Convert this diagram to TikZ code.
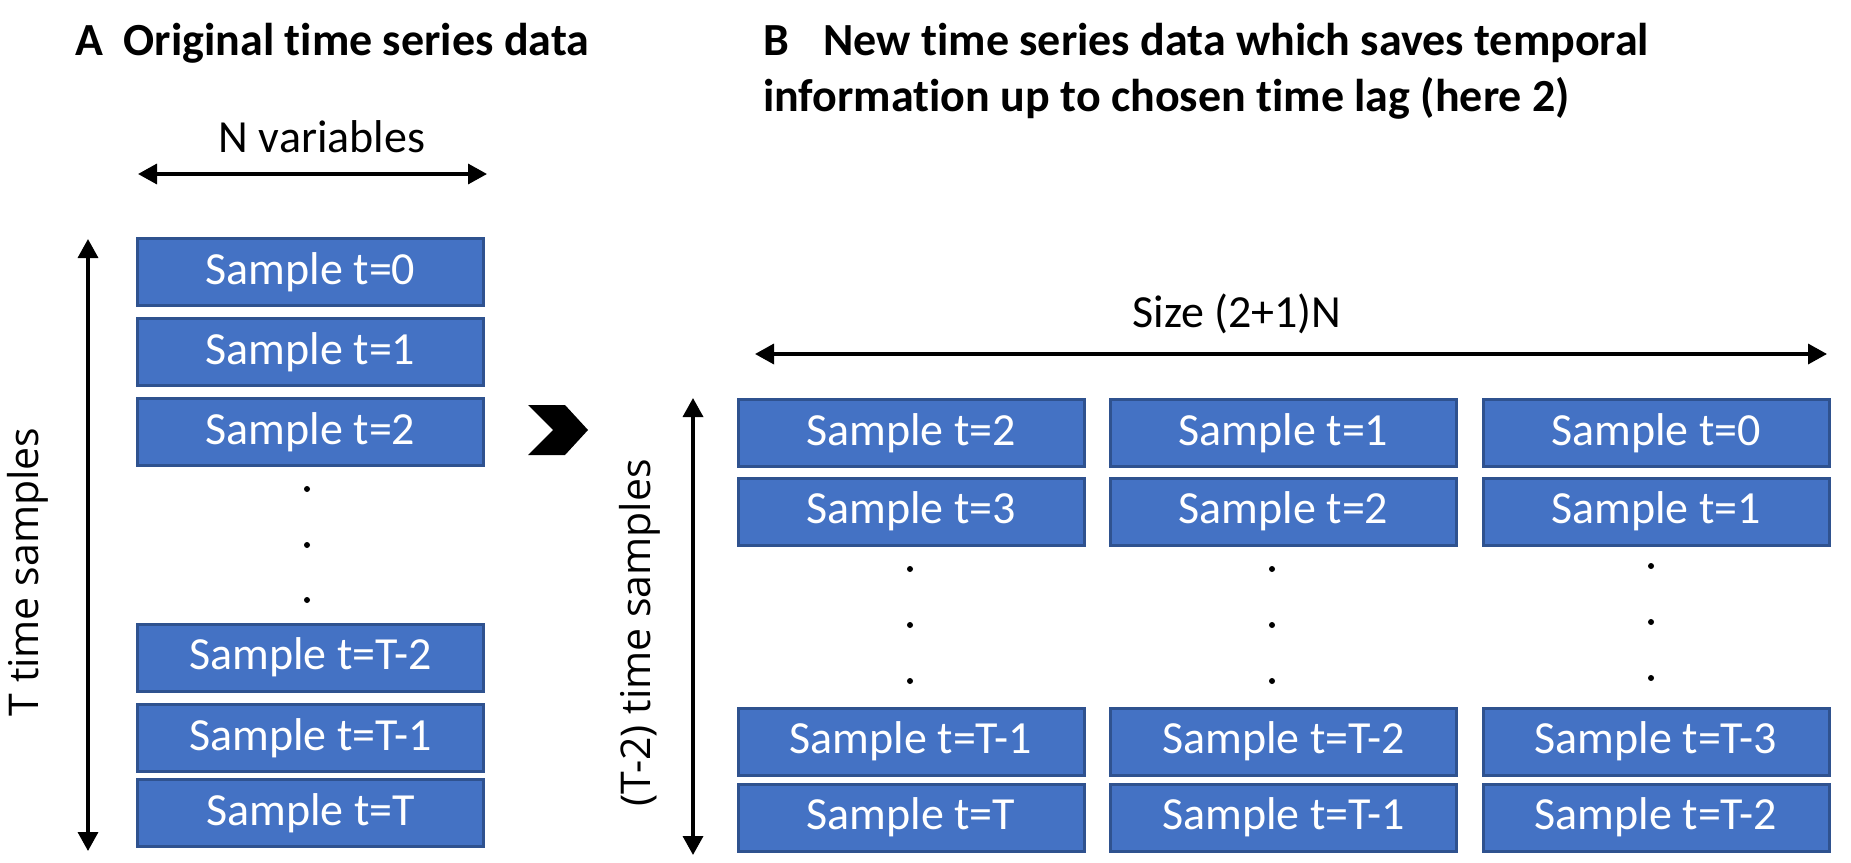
\documentclass[tikz,border=0pt]{standalone}
\usepackage{fontspec}
\setmainfont{Carlito}[Ligatures=NoCommon]
\newfontfamily\labelfont{Open Sans}
\usetikzlibrary{arrows.meta}
\definecolor{boxblue}{HTML}{4472C4}
\definecolor{boxedge}{HTML}{2F528F}
\tikzset{
 sample/.style={rectangle, fill=boxblue, draw=boxedge, line width=3pt, minimum width=346pt, minimum height=67pt, inner sep=0pt, text=white, font=\fontsize{46}{55}\selectfont},
 dimarrow/.style={line width=3.5pt, {Triangle[width=20pt,length=19pt]}-{Triangle[width=20pt,length=19pt]}},
 title/.style={anchor=base west, inner sep=0pt, font=\fontsize{46}{55}\selectfont\bfseries},
 dimlabel/.style={inner sep=0pt, font=\fontsize{46}{55}\selectfont},
 sidelabel/.style={rotate=90, inner sep=0pt, font=\labelfont\fontsize{41}{49}\selectfont}
}
\begin{document}
\begin{tikzpicture}[x=1pt, y=-1pt]
 \useasboundingbox (0,0) rectangle (1851,862);
 \node[title] (titleA) at (75,55) {A\hspace{0.45em}Original time series data};
 \node[title] (titleB) at (763,55) {B\hspace{0.75em}New time series data which saves temporal};
 \node[title] (titleBb) at (763,111) {information up to chosen time lag (here 2)};

 % part A
 \node[dimlabel, anchor=base] (nvar) at (322,152) {N variables};
 \coordinate (nl) at (138,174);
 \coordinate (nr) at (487,174);
 \draw[dimarrow] (nl) -- (nr);
 \node[sample] (a0) at (310.5,272) {Sample t=0};
 \node[sample] (a1) at (310.5,352) {Sample t=1};
 \node[sample] (a2) at (310.5,432) {Sample t=2};
 \node[sample] (aT2) at (310.5,657.5) {Sample t=T-2};
 \node[sample] (aT1) at (310.5,738) {Sample t=T-1};
 \node[sample] (aT) at (310.5,813) {Sample t=T};
 \foreach \y in {489,545,600} \fill (307,\y) circle (3pt);
 \coordinate (at) at (88,239);
 \coordinate (ab) at (88,851);
 \draw[dimarrow] (at) -- (ab);
 \node[sidelabel] (tlab) at (28,572) {T time samples};

 % chevron
 \fill (528,405) -- (565,405) -- (588,430) -- (565,455) -- (528,455) -- (553,430) -- cycle;

 % part B
 \node[dimlabel, anchor=base] (size) at (1237,327) {Size (2+1)N};
 \coordinate (sl) at (755,354);
 \coordinate (sr) at (1827,354);
 \draw[dimarrow] (sl) -- (sr);
 \coordinate (bt) at (693,398);
 \coordinate (bb) at (693,855);
 \draw[dimarrow] (bt) -- (bb);
 \node[sidelabel] (t2lab) at (640,633) {(T-2) time samples};

 \node[sample] (b11) at (911,433) {Sample t=2};
 \node[sample] (b12) at (1283.5,433) {Sample t=1};
 \node[sample] (b13) at (1656,433) {Sample t=0};
 \node[sample] (b21) at (911,511.5) {Sample t=3};
 \node[sample] (b22) at (1283.5,511.5) {Sample t=2};
 \node[sample] (b23) at (1656,511.5) {Sample t=1};
 \node[sample] (b31) at (911,741.5) {Sample t=T-1};
 \node[sample] (b32) at (1283.5,741.5) {Sample t=T-2};
 \node[sample] (b33) at (1656,741.5) {Sample t=T-3};
 \node[sample] (b41) at (911,817.5) {Sample t=T};
 \node[sample] (b42) at (1283.5,817.5) {Sample t=T-1};
 \node[sample] (b43) at (1656,817.5) {Sample t=T-2};
 \foreach \y in {569,625,681} {
  \fill (910,\y) circle (3pt);
  \fill (1272,\y) circle (3pt);
 }
 \foreach \y in {566,622,678} \fill (1651,\y) circle (3pt);
\end{tikzpicture}
\end{document}
